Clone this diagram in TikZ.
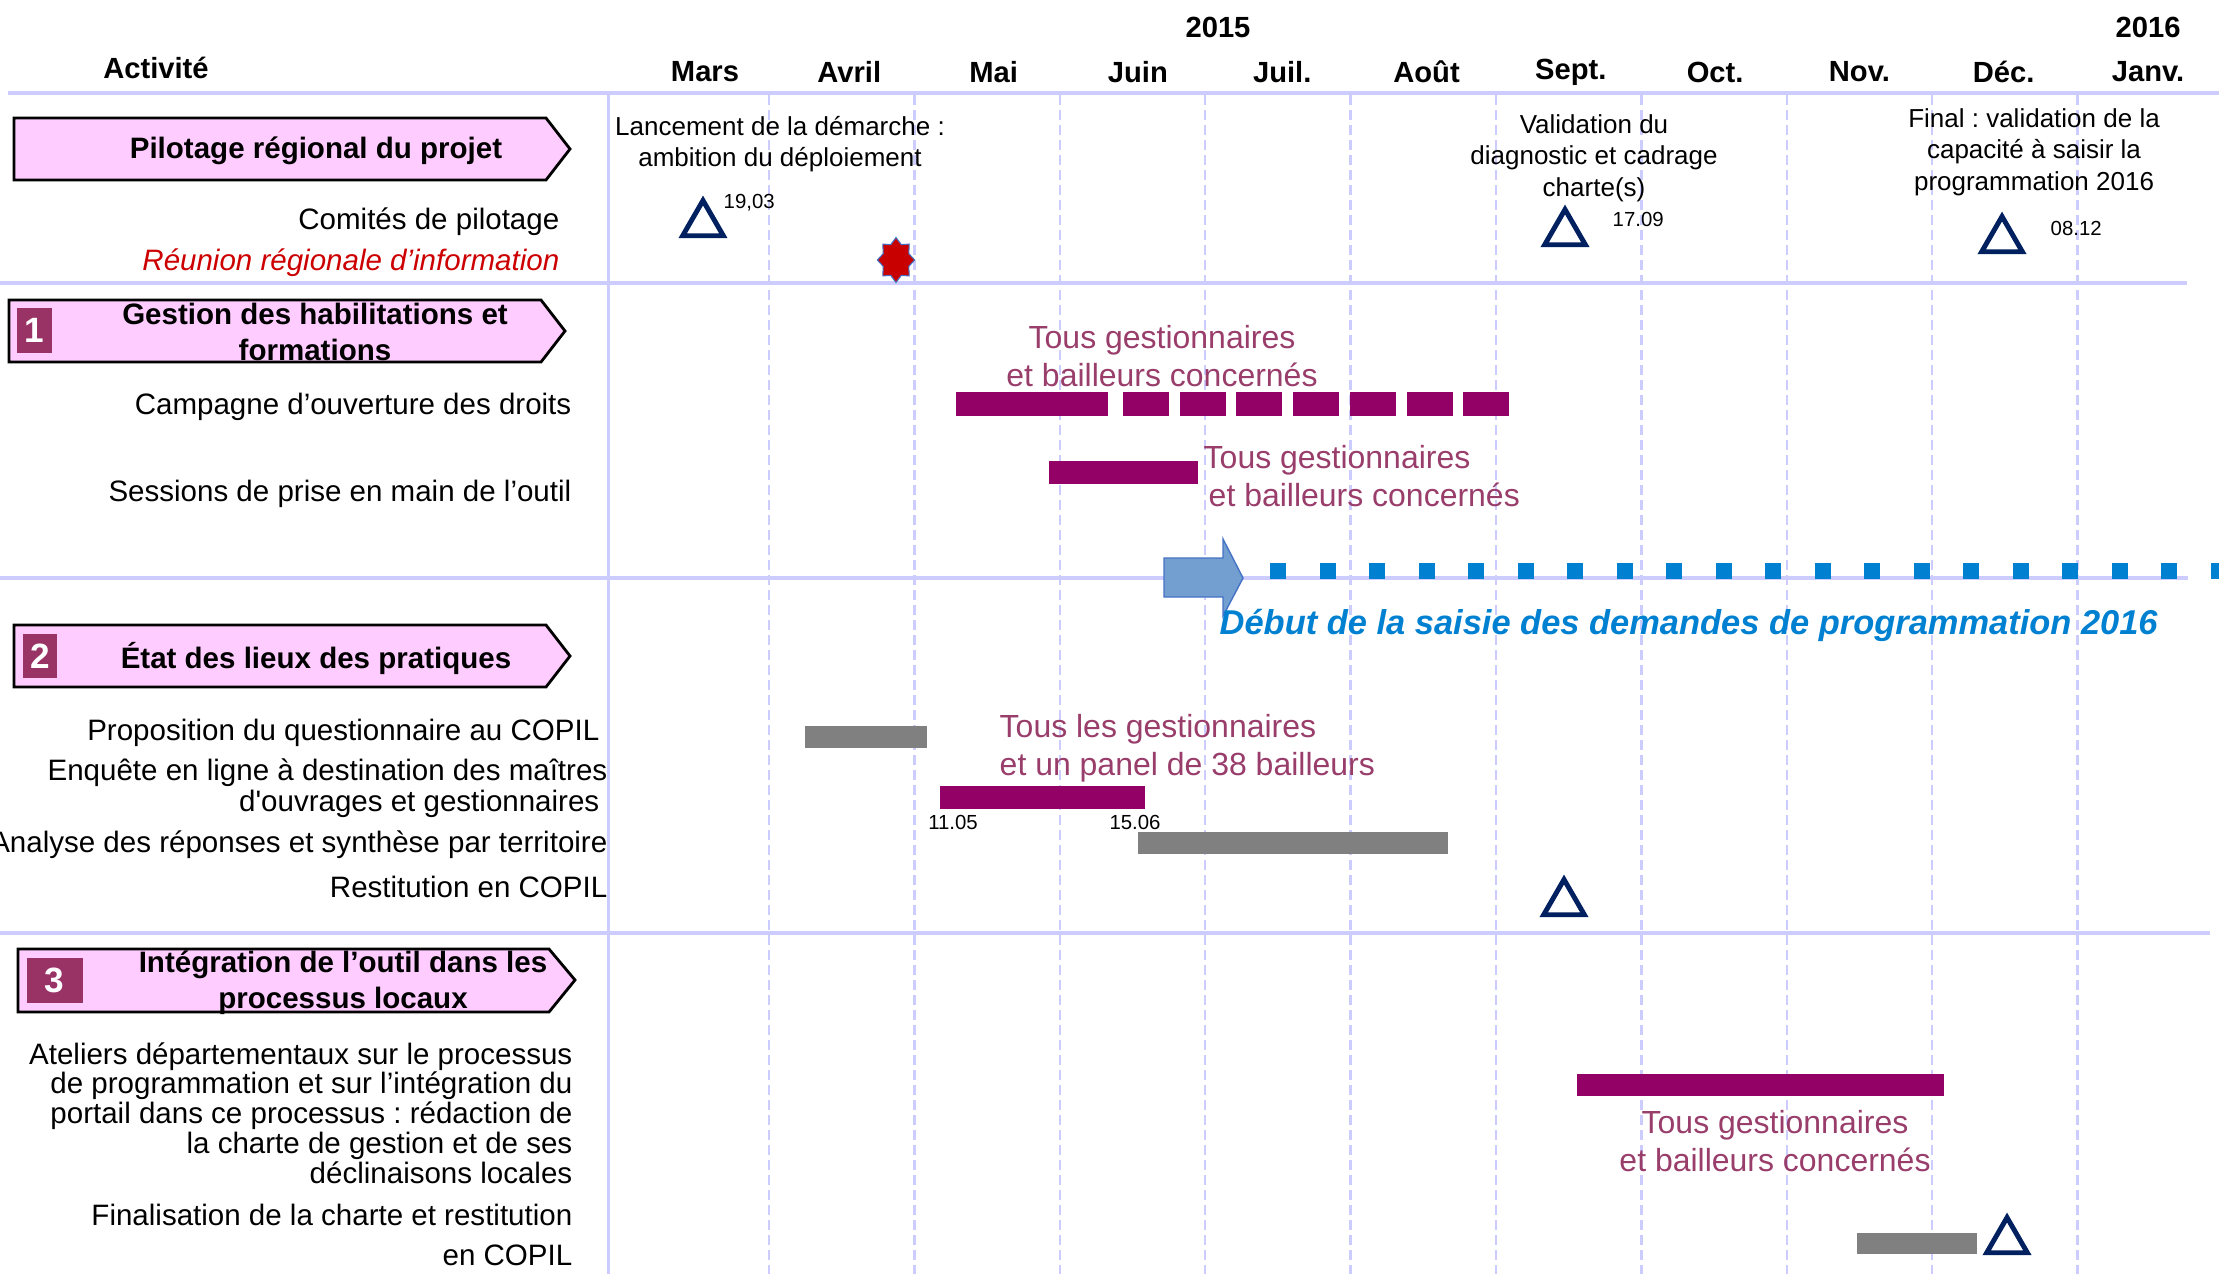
\documentclass[tikz,border=0pt]{standalone}
\usepackage{fontspec}
\setmainfont{Liberation Sans}
\usepackage{tikz}
\definecolor{gridlav}{RGB}{204,204,255}
\definecolor{phasepink}{RGB}{255,204,255}
\definecolor{numplum}{RGB}{153,51,102}
\definecolor{barplum}{RGB}{147,0,102}
\definecolor{noteplum}{RGB}{153,61,107}
\definecolor{bargrey}{RGB}{128,128,128}
\definecolor{navy}{RGB}{0,32,96}
\definecolor{starred}{RGB}{200,0,0}
\definecolor{arrowblue}{RGB}{114,159,207}
\definecolor{arrowedge}{RGB}{68,114,196}
\definecolor{saisieblue}{RGB}{0,128,208}
\definecolor{reunionred}{RGB}{204,0,0}
\usetikzlibrary{shapes.geometric, positioning}
\frenchspacing

\begin{document}
\begin{tikzpicture}[
    x=0.1mm, y=-0.1mm,
    gridline/.style={gridlav, line width=0.7pt, dash pattern=on 1mm off 0.5mm},
    sepline/.style={gridlav, line width=0.9pt},
    month/.style={font=\fontsize{8.3}{10}\selectfont\bfseries, inner sep=0pt},
    phase/.style={draw=black, fill=phasepink, line width=0.8pt},
    phasetitle/.style={font=\fontsize{8.4}{10}\selectfont\bfseries, align=center, inner sep=0pt},
    num/.style={fill=numplum, text=white, font=\fontsize{10}{12}\selectfont\bfseries,
                minimum width=3.5mm, minimum height=4.5mm, inner sep=0pt},
    activity/.style={anchor=east, align=right, inner sep=0pt, font=\fontsize{8.4}{8.8}\selectfont},
    note/.style={align=center, inner sep=0pt, font=\fontsize{7.4}{9}\selectfont},
    who/.style={text=noteplum, inner sep=0pt, font=\fontsize{9.1}{10.8}\selectfont},
    milestone/.style={regular polygon, regular polygon sides=3, draw=navy, fill=white,
                      line width=1.4pt, minimum size=4.7mm, inner sep=0pt},
    tiny/.style={font=\fontsize{5.8}{7}\selectfont, inner sep=0pt},
    bar/.style={fill=barplum},
    greybar/.style={fill=bargrey}
]
    \useasboundingbox (0,0) rectangle (2219,1274);

    % grid
    \foreach \i in {0,...,9}
        \draw[gridline] ({769+145.4*\i},95) -- ({769+145.4*\i},1274);
    \draw[sepline, line width=1.4pt] (8,93) -- (2219,93);
    \draw[sepline, line width=1.1pt] (608.5,93) -- (608.5,1274);
    \draw[sepline] (0,283) -- (2187,283);
    \draw[sepline] (0,578) -- (2188,578);
    \draw[sepline] (0,933) -- (2210,933);

    % header
    \node[month] (y2015) at (1218,27) {2015};
    \node[month] (y2016) at (2148,27) {2016};
    \node[month] (act) at (156,68) {Activité};
    \foreach \m [count=\i from 0] in {Mars,Avril,Mai,Juin,Juil.,Août,Sept.,Oct.,Nov.,Déc.,Janv.}
        \node[month] (m\i) at ({705+144.3*\i},72) {\m};

    % phases
    \draw[phase] (14,118) -- (546,118) -- (570,149) -- (546,180) -- (14,180) -- cycle;
    \draw[phase] (9,300) -- (541,300) -- (565,331) -- (541,362) -- (9,362) -- cycle;
    \draw[phase] (14,625) -- (546,625) -- (570,656) -- (546,687) -- (14,687) -- cycle;
    \draw[phase] (18,949) -- (549,949) -- (575,980) -- (549,1012) -- (18,1012) -- cycle;
    \node[phasetitle] (pilot) at (316,151) {Pilotage régional du projet};
    \node[phasetitle] (habil) at (315,332) {Gestion des habilitations et\\formations};
    \node[phasetitle] (etat) at (316,658) {État des lieux des pratiques};
    \node[phasetitle, font=\fontsize{8.4}{10.2}\selectfont\bfseries] (integ) at (343,983)
        {Intégration de l’outil dans les\\processus locaux};
    \node[num] (n1) at (34.5,330.5) {1};
    \node[num, minimum width=3.4mm, minimum height=4.4mm] (n2) at (40,656) {2};
    \node[num, minimum width=5.6mm] (n3) at (54.5,980.5) {3};

    % activities
    \node[activity] (copil) at (560,222) {Comités de pilotage};
    \node[activity, text=reunionred, font=\fontsize{8.4}{10}\selectfont\itshape] (reunion) at (560,263)
        {Réunion régionale d’information};
    \node[activity] (campagne) at (572,407) {Campagne d’ouverture des droits};
    \node[activity] (sessions) at (572,494) {Sessions de prise en main de l’outil};
    \node[activity] (propo) at (600,733) {Proposition du questionnaire au COPIL};
    \node[activity] (enquete) at (608,788)
        {Enquête en ligne à destination des maîtres\\d\textquotesingle ouvrages et gestionnaires\hspace*{0.8mm}};
    \node[activity] (analyse) at (608,845) {Analyse des réponses et synthèse par territoire};
    \node[activity] (restit) at (608,887) {Restitution en COPIL};
    \node[activity, font=\fontsize{8.4}{8.5}\selectfont] (ateliers) at (573,1113)
        {Ateliers départementaux sur le processus\\de programmation et sur l’intégration du\\portail dans ce processus : rédaction de\\la charte de gestion et de ses\\déclinaisons locales};
    \node[activity, font=\fontsize{8.4}{11.4}\selectfont] (final) at (573,1235)
        {Finalisation de la charte et restitution\\en COPIL};

    % pilotage
    \node[note] (lancement) at (780,144) {Lancement de la démarche :\\ambition du déploiement};
    \node[note] (valid) at (1594,158) {Validation du\\diagnostic et cadrage\\charte(s)};
    \node[note] (finalv) at (2034,152) {Final : validation de la\\capacité à saisir la\\programmation 2016};
    \node[milestone] (ms1) at (703,224) {};
    \node[milestone] (ms2) at (1565,233) {};
    \node[milestone] (ms3) at (2002,240) {};
    \node[tiny, anchor=west, right=2mm of ms1.north, yshift=-0.7mm] {19,03};
    \node[tiny, anchor=west, right=4.7mm of ms2.north, yshift=-1.5mm] {17.09};
    \node[tiny, anchor=west, right=4.8mm of ms3.north, yshift=-1.7mm] {08.12};
    \node[star, star points=8, star point ratio=1.35, fill=starred, draw=arrowedge, line width=0.3pt,
          minimum size=4.5mm, inner sep=0pt, xscale=0.83, transform shape] (star) at (896,260) {};

    % habilitations
    \fill[bar] (956,392) rectangle (1108,416);
    \foreach \i in {0,...,6}
        \fill[bar] ({1123+56.7*\i},392) rectangle ++(46,24);
    \node[who, align=center] (who1) at (1162,356) {Tous gestionnaires\\et bailleurs concernés};
    \fill[bar] (1049,461) rectangle (1198,484);
    \node[who, align=left, anchor=west] (who2) at (1203,476) {Tous gestionnaires\\\hspace*{0.5mm}et bailleurs concernés};

    % saisie 2016
    \draw[draw=arrowedge, fill=arrowblue, line width=0.4pt]
        (1164,558) -- (1223,558) -- (1223,539) -- (1243,578) -- (1223,616) -- (1223,597) -- (1164,597) -- cycle;
    \foreach \i in {0,...,19}
        \fill[saisieblue] ({1270+49.5*\i},563) rectangle ++(16,16);
    \node[anchor=west, inner sep=0pt, text=saisieblue, font=\fontsize{9.8}{12}\selectfont\bfseries\itshape]
        (saisie) at (1219,625) {Début de la saisie des demandes de programmation 2016};

    % etat des lieux
    \fill[greybar] (805,726) rectangle (927,748);
    \fill[bar] (940,786) rectangle (1145,809);
    \node[tiny] (d1105) at (953,822) {11.05};
    \node[tiny] (d1506) at (1135,822) {15.06};
    \node[who, align=left, anchor=west] (who3) at (999,748) {Tous les gestionnaires\\et un panel de 38 bailleurs};
    \fill[greybar] (1138,832) rectangle (1448,854);
    \node[milestone] (ms4) at (1564,903) {};

    % integration
    \fill[bar] (1577,1074) rectangle (1944,1096);
    \node[who, align=center] (who4) at (1775,1141) {Tous gestionnaires\\et bailleurs concernés};
    \fill[greybar] (1857,1233) rectangle (1977,1254);
    \node[milestone] (ms5) at (2007,1241) {};
\end{tikzpicture}
\end{document}
